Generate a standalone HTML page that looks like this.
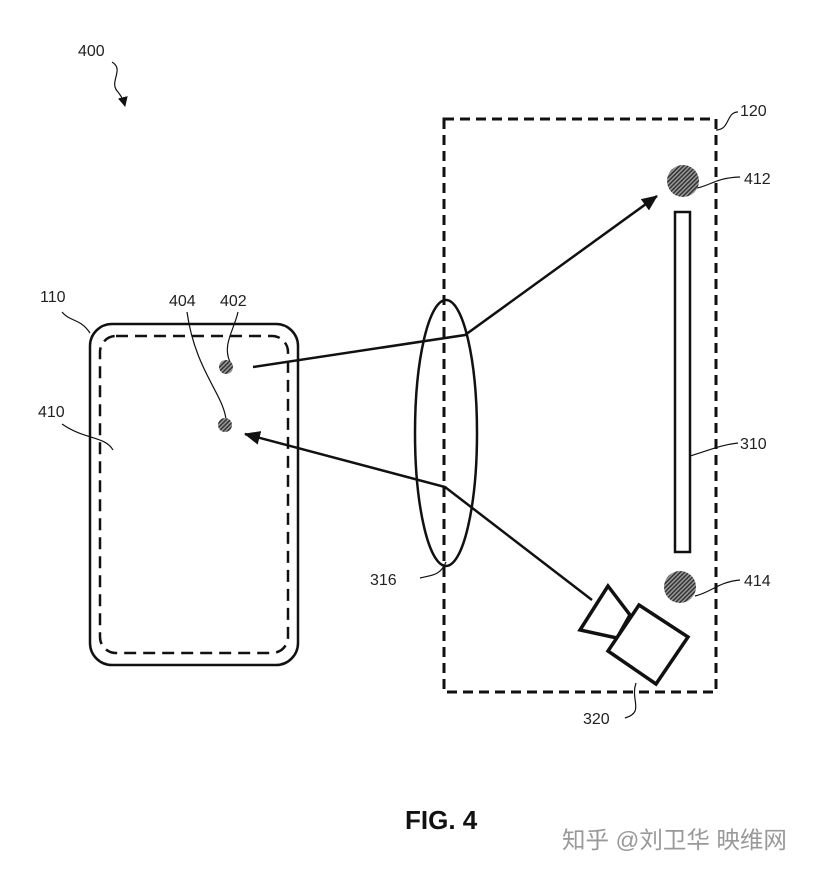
<!DOCTYPE html>
<html><head><meta charset="utf-8"><style>
html,body{margin:0;padding:0;background:#fff;}
svg{display:block;}
text{font-family:"Liberation Sans",sans-serif;font-size:16px;fill:#222;}
</style></head><body>
<svg width="814" height="871" viewBox="0 0 814 871" xmlns="http://www.w3.org/2000/svg">
<defs>
<pattern id="h" width="3" height="3" patternUnits="userSpaceOnUse" patternTransform="rotate(45)">
<rect width="3" height="3" fill="#999"/><rect width="1.5" height="3" fill="#333"/></pattern>
<marker id="a" markerWidth="10" markerHeight="10" refX="9" refY="5" orient="auto" markerUnits="userSpaceOnUse" viewBox="0 0 10 10">
<path d="M0,0 L10,5 L0,10 z" fill="#111"/></marker>
<marker id="b" markerWidth="16" markerHeight="14" refX="15" refY="7" orient="auto" markerUnits="userSpaceOnUse">
<path d="M0,0 L16,7 L0,14 z" fill="#111"/></marker>
</defs>
<g fill="none" stroke="#111">
<path d="M112,62 C125,70 108,82 118,92 C122,97 124,102 125,106" stroke-width="1.2" marker-end="url(#a)"/>
<rect x="444" y="119" width="272" height="573" stroke-width="3" stroke-dasharray="10,6"/>
<path d="M716,130 C730,130 726,112 738,112" stroke-width="1.2"/>
<rect x="90" y="324" width="208" height="341" rx="22" stroke-width="2.5"/>
<rect x="100" y="336" width="188" height="317" rx="16" stroke-width="2.5" stroke-dasharray="12,7"/>
<path d="M90,333 C80,318 70,322 62,312" stroke-width="1.2"/>
<path d="M113,450 C105,436 85,440 62,424" stroke-width="1.2"/>
<ellipse cx="446" cy="433" rx="31" ry="133" stroke-width="2.5"/>
<path d="M446,562 C440,576 432,575 420,578" stroke-width="1.2"/>
<rect x="675" y="212" width="15" height="340" stroke-width="2.5"/>
<path d="M690,456 C710,450 720,445 738,443" stroke-width="1.2"/>
<path d="M253,367 L465,335 L657,196" stroke-width="2.5" marker-end="url(#b)"/>
<path d="M592,600 L445,487 L245,434" stroke-width="2.5" marker-end="url(#b)"/>
<path d="M608,586 L580,630 L617,638 L630,615 Z" stroke-width="3.5" fill="#fff"/>
<path d="M639,605 L688,637 L656,684 L608,651 Z" stroke-width="3.5" fill="#fff"/>
<path d="M636,683 C630,700 645,712 625,718" stroke-width="1.2"/>
<path d="M697,188 C712,185 715,178 740,177" stroke-width="1.2"/>
<path d="M695,596 C712,592 718,582 740,580" stroke-width="1.2"/>
<path d="M230,362 C222,345 234,330 238,312" stroke-width="1.2"/>
<path d="M226,420 C224,395 195,370 187,312" stroke-width="1.2"/>
</g>
<circle cx="683" cy="181" r="16" fill="url(#h)"/>
<circle cx="680" cy="587" r="16" fill="url(#h)"/>
<circle cx="226" cy="367" r="7" fill="url(#h)"/>
<circle cx="225" cy="425" r="7" fill="url(#h)"/>
<text x="78" y="56">400</text>
<text x="740" y="116">120</text>
<text x="744" y="184">412</text>
<text x="740" y="449">310</text>
<text x="744" y="586">414</text>
<text x="370" y="585">316</text>
<text x="583" y="724">320</text>
<text x="40" y="302">110</text>
<text x="38" y="417">410</text>
<text x="169" y="306">404</text>
<text x="220" y="306">402</text>
<text x="405" y="829" style="font-size:26px;font-weight:bold;fill:#111">FIG. 4</text>
<text x="562" y="848" style="font-family:'Liberation Sans','Noto Sans CJK SC',sans-serif;font-size:23.5px;fill:#999">知乎 @刘卫华 映维网</text>
</svg>
</body></html>
